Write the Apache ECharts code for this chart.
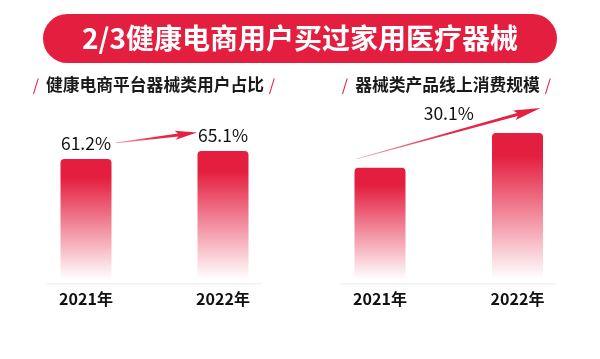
<!DOCTYPE html>
<html>
<head>
<meta charset="utf-8">
<script src="https://cdn.jsdelivr.net/npm/echarts@6/dist/echarts.min.js"></script>
<style>
html,body{margin:0;padding:0;background:#fff;}
#chart{width:600px;height:359px;}
</style>
</head>
<body>
<div id="chart"></div>
<script>
const chartTitle = '2/3健康电商用户买过家用医疗器械';
const leftSubtitle = '健康电商平台器械类用户占比';
const rightSubtitle = '器械类产品线上消费规模';
const categories = ['2021年', '2022年'];
const userShare = [61.2, 65.1];          // %
const consumptionIndex = [100, 130.1];   // 2021 = 100
const growthLabel = '30.1%';

const RED = '#E41E3F';
const FONT = '"Noto Sans CJK SC", "Noto Sans", sans-serif';

const barColor = {
  type: 'linear', x: 0, y: 0, x2: 0, y2: 1,
  colorStops: [
    { offset: 0, color: 'rgba(228,30,63,1)' },
    { offset: 0.15, color: 'rgba(228,30,63,1)' },
    { offset: 0.97, color: 'rgba(228,30,63,0)' },
    { offset: 1, color: 'rgba(228,30,63,0)' }
  ]
};

const chart = echarts.init(document.getElementById('chart'));

function xAxisCfg(gridIndex) {
  return {
    type: 'category', gridIndex, data: categories,
    axisLine: { show: false }, axisTick: { show: false },
    axisLabel: { color: '#111', fontSize: 16, fontWeight: 'bold', fontFamily: FONT, margin: 8 }
  };
}
function yAxisCfg(gridIndex, max) {
  return {
    type: 'value', gridIndex, min: 0, max,
    show: false, splitLine: { show: false }
  };
}

const baseGraphics = [
  { type: 'rect', shape: { x: 43, y: 14, width: 514, height: 49, r: 24.5 }, style: { fill: RED }, z: 1 },
  { type: 'text', x: 300, y: 38.5, z: 2,
    style: { text: chartTitle, fill: '#fff', font: 'bold 28px ' + FONT, align: 'center', verticalAlign: 'middle' } },
  { type: 'text', x: 155, y: 85, style: { text: leftSubtitle, fill: '#1a1a1a', font: 'bold 16.8px ' + FONT, align: 'center', verticalAlign: 'middle' } },
  { type: 'text', x: 36, y: 85, style: { text: '/', fill: RED, font: '16px ' + FONT, align: 'center', verticalAlign: 'middle' } },
  { type: 'text', x: 272, y: 85, style: { text: '/', fill: RED, font: '16px ' + FONT, align: 'center', verticalAlign: 'middle' } },
  { type: 'text', x: 447.5, y: 85, style: { text: rightSubtitle, fill: '#1a1a1a', font: 'bold 16.8px ' + FONT, align: 'center', verticalAlign: 'middle' } },
  { type: 'text', x: 345, y: 85, style: { text: '/', fill: RED, font: '16px ' + FONT, align: 'center', verticalAlign: 'middle' } },
  { type: 'text', x: 548, y: 85, style: { text: '/', fill: RED, font: '16px ' + FONT, align: 'center', verticalAlign: 'middle' } },
  { type: 'rect', shape: { x: 47, y: 283, width: 215, height: 1.5 }, style: { fill: '#f1f1f1' } },
  { type: 'rect', shape: { x: 340, y: 283, width: 216, height: 1.5 }, style: { fill: '#f1f1f1' } }
];

chart.setOption({
  animation: false,
  backgroundColor: '#fff',
  grid: [
    { left: 17.5, right: 308.5, top: 80.2, bottom: 76 },
    { left: 311.25, right: 13.75, top: 80.2, bottom: 76 }
  ],
  xAxis: [xAxisCfg(0), xAxisCfg(1)],
  yAxis: [yAxisCfg(0, 100), yAxisCfg(1, 176)],
  series: [
    {
      type: 'bar', xAxisIndex: 0, yAxisIndex: 0, data: userShare, barWidth: 51,
      itemStyle: { color: barColor, borderRadius: [4, 4, 0, 0] },
      label: { show: true, position: 'top', distance: 7, formatter: '{c}%', color: '#111', fontSize: 17.5, fontFamily: FONT }
    },
    {
      type: 'bar', xAxisIndex: 1, yAxisIndex: 1, data: consumptionIndex, barWidth: 51,
      itemStyle: { color: barColor, borderRadius: [4, 4, 0, 0] }
    }
  ],
  graphic: baseGraphics
});

function arrowPolygon(p0, p1, headLen, headHalf, tailHalf, shaftHalf) {
  const dx = p1[0] - p0[0], dy = p1[1] - p0[1];
  const L = Math.sqrt(dx * dx + dy * dy);
  const ux = dx / L, uy = dy / L, nx = -uy, ny = ux;
  const pt = (t, w) => [p0[0] + ux * t + nx * w, p0[1] + uy * t + ny * w];
  const b = L - headLen;
  return [
    pt(0, tailHalf), pt(b + 3, shaftHalf), pt(b, headHalf), pt(L, 0),
    pt(b, -headHalf), pt(b + 3, -shaftHalf), pt(0, -tailHalf)
  ];
}
function arrowGraphic(p0, p1, headLen, headHalf) {
  return {
    type: 'polygon',
    shape: { points: arrowPolygon(p0, p1, headLen, headHalf, 0.35, 1.5) },
    style: {
      fill: {
        type: 'linear', global: true, x: p0[0], y: p0[1], x2: p1[0], y2: p1[1],
        colorStops: [{ offset: 0, color: 'rgba(228,30,63,0.45)' }, { offset: 0.5, color: 'rgba(228,30,63,0.95)' }, { offset: 1, color: RED }]
      }
    }
  };
}

// Arrow positions derived from bar positions
const l0 = chart.convertToPixel({ xAxisIndex: 0, yAxisIndex: 0 }, [0, userShare[0]]);
const l1 = chart.convertToPixel({ xAxisIndex: 0, yAxisIndex: 0 }, [1, userShare[1]]);
const r0 = chart.convertToPixel({ xAxisIndex: 1, yAxisIndex: 1 }, [0, consumptionIndex[0]]);
const r1 = chart.convertToPixel({ xAxisIndex: 1, yAxisIndex: 1 }, [1, consumptionIndex[1]]);

const leftArrow = arrowGraphic([l0[0] + 30, l0[1] - 16], [l1[0] - 26, l1[1] - 18.5], 22, 4.5);
const rightArrow = arrowGraphic([r0[0] - 23, r0[1] - 9], [r1[0] + 23, r1[1] - 25], 27, 5);
const midX = (r0[0] - 23 + r1[0] + 23) / 2, midY = (r0[1] - 9 + r1[1] - 25) / 2;
const growthText = {
  type: 'text', x: midX, y: midY - 20,
  style: { text: growthLabel, fill: '#111', font: '17.5px ' + FONT, align: 'center', verticalAlign: 'middle' }
};

chart.setOption({ graphic: baseGraphics.concat([leftArrow, rightArrow, growthText]) });
</script>
</body>
</html>
